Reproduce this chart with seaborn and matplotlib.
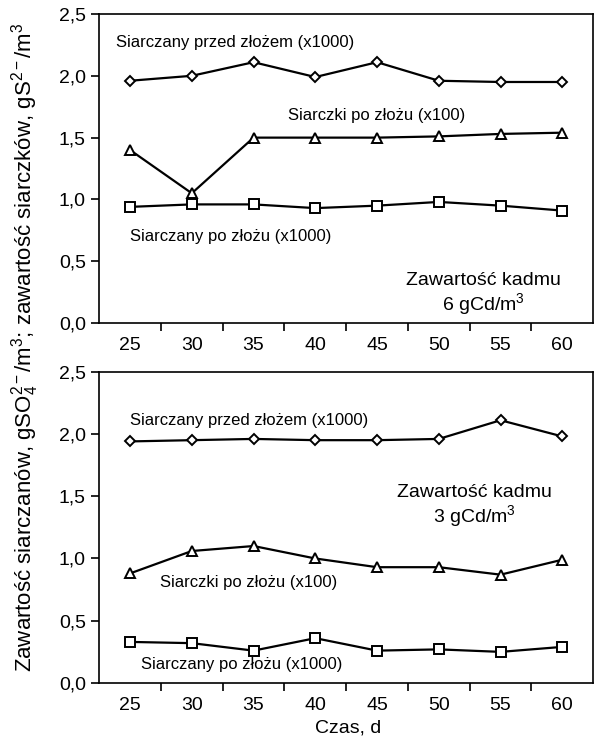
import numpy as np
import pandas as pd
import seaborn as sns
from matplotlib import pyplot as plt

# %% Data
days = [25, 30, 35, 40, 45, 50, 55, 60]

# Cd 6 g/m3
top_przed = [1.96, 2.00, 2.11, 1.99, 2.11, 1.96, 1.95, 1.95]
top_siarczki = [1.40, 1.05, 1.50, 1.50, 1.50, 1.51, 1.53, 1.54]
top_po = [0.94, 0.96, 0.96, 0.93, 0.95, 0.98, 0.95, 0.91]

# Cd 3 g/m3
bot_przed = [1.94, 1.95, 1.96, 1.95, 1.95, 1.96, 2.11, 1.98]
bot_siarczki = [0.88, 1.06, 1.10, 1.00, 0.93, 0.93, 0.87, 0.99]
bot_po = [0.33, 0.32, 0.26, 0.36, 0.26, 0.27, 0.25, 0.29]

y_ticks = [0.0, 0.5, 1.0, 1.5, 2.0, 2.5]
y_ticklabels = ["0,0", "0,5", "1,0", "1,5", "2,0", "2,5"]

# %% Style
sns.set_style("ticks")
plt.rcParams["font.family"] = ["Liberation Sans", "DejaVu Sans"]
plt.rcParams["mathtext.fontset"] = "custom"
plt.rcParams["mathtext.rm"] = "Liberation Sans"
plt.rcParams["mathtext.it"] = "Liberation Sans"
for k in ["text.color", "axes.labelcolor", "xtick.color", "ytick.color", "axes.edgecolor"]:
    plt.rcParams[k] = "black"

fig = plt.figure(figsize=(6.01, 7.36), dpi=100)
ax1 = fig.add_axes([0.165, 0.561, 0.822, 0.420])
ax2 = fig.add_axes([0.165, 0.072, 0.822, 0.423])

series_style = [
    ("przed", "D", 5),
    ("siarczki", "^", 7),
    ("po", "s", 7),
]


def draw(ax, przed, siarczki, po):
    vals = {"przed": przed, "siarczki": siarczki, "po": po}
    for key, marker, ms in series_style:
        df = pd.DataFrame({"day": days, "val": vals[key]})
        sns.lineplot(data=df, x="day", y="val", ax=ax, color="black",
                     linewidth=1.6, marker=marker, markersize=ms,
                     markerfacecolor="white", markeredgecolor="black",
                     markeredgewidth=1.4)
    ax.set_xlim(22.5, 62.5)
    ax.set_ylim(0, 2.5)
    # ticks sit between the days, labels under the points
    ax.set_xticks(np.arange(27.5, 60, 5))
    ax.set_xticklabels([])
    ax.set_xticks(days, minor=True)
    ax.set_xticklabels([str(d) for d in days], minor=True)
    ax.tick_params(axis="x", which="minor", length=0, labelsize=14, pad=10)
    ax.tick_params(axis="x", which="major", length=6, width=1.2, direction="out")
    ax.set_yticks(y_ticks)
    ax.set_yticklabels(y_ticklabels)
    ax.tick_params(axis="y", length=6, width=1.2, labelsize=14, direction="out")
    ax.set_xlabel("")
    ax.set_ylabel("")
    for s in ax.spines.values():
        s.set_linewidth(1.2)
        s.set_visible(True)


draw(ax1, top_przed, top_siarczki, top_po)
draw(ax2, bot_przed, bot_siarczki, bot_po)

# %% Annotations
fs = 12
ax1.text(23.9, 2.27, "Siarczany przed złożem (x1000)", fontsize=fs, va="center")
ax1.text(37.8, 1.68, "Siarczki po złożu (x100)", fontsize=fs, va="center")
ax1.text(25.0, 0.70, "Siarczany po złożu (x1000)", fontsize=fs, va="center")
ax1.text(53.6, 0.23, "Zawartość kadmu\n6 gCd/m$^3$", fontsize=14, ha="center",
         va="center", linespacing=1.1)

ax2.text(25.0, 2.11, "Siarczany przed złożem (x1000)", fontsize=fs, va="center")
ax2.text(52.9, 1.42, "Zawartość kadmu\n3 gCd/m$^3$", fontsize=14, ha="center",
         va="center", linespacing=1.1)
ax2.text(27.4, 0.81, "Siarczki po złożu (x100)", fontsize=fs, va="center")
ax2.text(25.9, 0.145, "Siarczany po złożu (x1000)", fontsize=fs, va="center")

fig.text(0.58, 0.011, "Czas, d", fontsize=14, ha="center", va="center")

fig.text(0.042, 0.528,
         "Zawartość siarczanów, gSO$_4^{2-}$/m$^3$; zawartość siarczków, gS$^{2-}$/m$^3$",
         rotation=90, ha="center", va="center", fontsize=16)

plt.savefig("out.png", dpi=100)
plt.close()
